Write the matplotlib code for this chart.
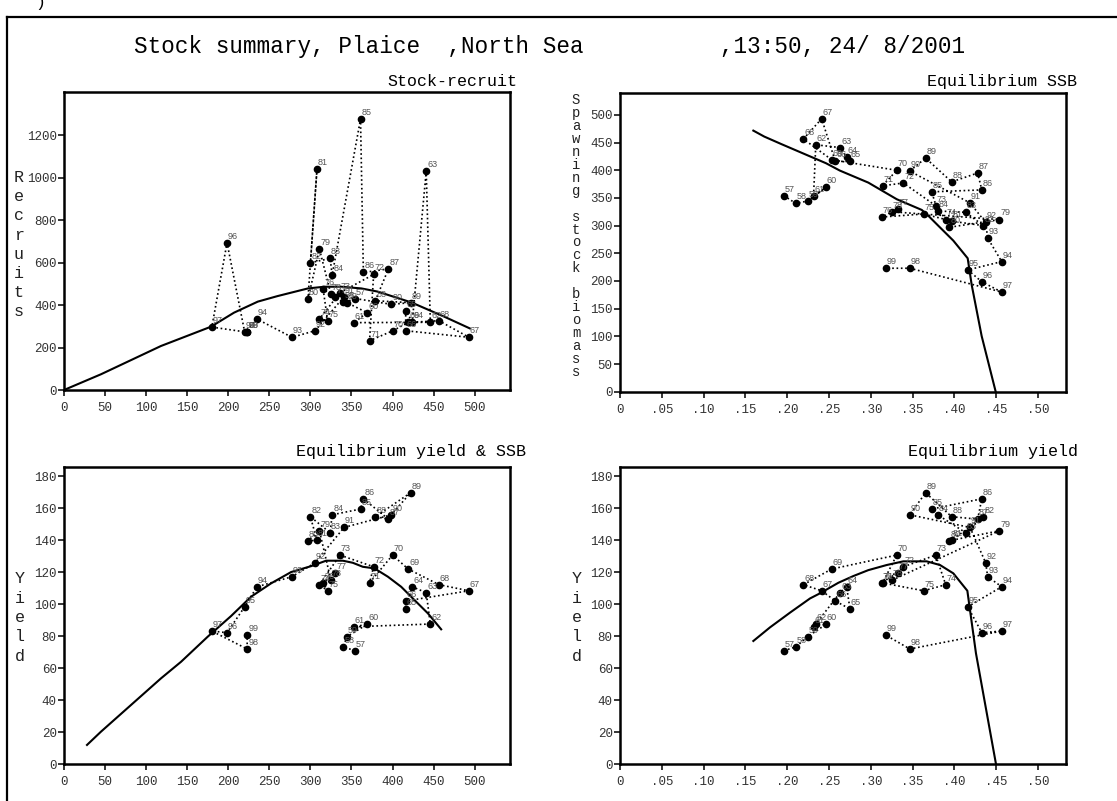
import matplotlib
matplotlib.use("Agg")
import matplotlib.pyplot as plt
from matplotlib.lines import Line2D

# Dados (ano, F, SSB, recrutas, rendimento)
years = list(range(1957, 2000))
f_bar = [.196, .2105, .2245, .2464, .2315, .2342, .2632, .2711, .2751, .2576,
         .2412, .2193, .2532, .331, .3142, .339, .3776, .3896, .3632, .313,
         .3322, .325, .4538, .394, .3967, .4346, .4135, .38, .3728, .4328,
         .4278, .3967, .3656, .3465, .4187, .4374, .4398, .4566, .416, .4328,
         .4566, .3467, .3178]
ssb = [354, 340, 344.5, 369, 353, 446, 441, 424, 416, 416,
       493, 456.5, 419, 400, 372, 377, 336, 311, 321, 315.5,
       330, 325, 311, 297, 308, 300, 324, 326.5, 361, 364.5,
       395, 379, 422, 398.5, 341, 305.7, 277.5, 235, 220, 198.5,
       180, 223, 223]
recruits = [428, 412, 411, 364, 317, 318.6, 1030, 321, 373, 279,
            248, 326, 318, 278, 232, 544, 458, 334, 326, 474,
            439, 450, 663, 428, 1040, 599, 619, 541, 1275, 553,
            570, 420, 411, 403, 439, 279, 248, 334, 272, 693,
            296, 272, 275]
yields = [71.0, 73.5, 79.8, 87.5, 86.0, 87.7, 107.3, 111.0, 97.1, 102.1,
          108.5, 112.3, 122.1, 130.8, 113.5, 123.5, 130.8, 112.3, 108.5, 113.5,
          119.8, 115, 146.0, 139.8, 140, 154.8, 144.8, 156, 159.6, 166,
          153.3, 154.8, 169.8, 156, 148.1, 126, 117.3, 111, 98.5, 82.3,
          83.3, 72.1, 80.8]

# Curvas (equilibrio e stock-recrutamento)
sr_ssb = [0, 45, 118, 179, 207, 236, 260, 297, 317, 337, 362, 382, 423, 463, 494]
sr_rec = [0, 74, 207, 298, 364, 416, 442, 478, 486, 486, 478, 463, 412, 345, 290]

eq_f_ssb = [.1595, .1726, .1934, .2464, .263, .297, .331, .361, .369, .381,
            .3987, .4159, .4207, .4326, .4494]
eq_ssb = [471.6, 460.8, 447, 412.7, 399.4, 377.7, 347.7, 328.3, 317.5, 299.4,
          272.9, 241, 192.8, 100.6, 0]

eq_ssb_y = [28, 45, 118, 142.5, 175, 203.4, 227.8, 252, 276.5, 300.9,
            319.1, 339.5, 351.6, 363.8, 378, 394.3, 410.5, 426.7, 443, 459.2]
eq_yield_s = [12.1, 20.4, 53.7, 64.1, 79.8, 92.7, 104.8, 113.1, 120.2, 123.9,
              127.3, 127.3, 126, 123.5, 122.5, 117.3, 111, 102.7, 94.4, 84.4]

eq_f_y = [.1595, .1794, .2033, .2273, .2392, .2612, .2791, .297, .319, .3389,
          .3668, .3828, .3987, .4155, .4258, .4498]
eq_yield = [77.1, 85.6, 94.8, 103.7, 106.9, 113.5, 117.7, 121.4, 124.6, 126.9,
            126.9, 124.6, 119.4, 108.5, 69.4, 0]

ssb_ticks = [0, 50, 100, 150, 200, 250, 300, 350, 400, 450, 500]
f_ticks = [0, .05, .10, .15, .20, .25, .30, .35, .40, .45, .50]
f_labels = ["0", ".05", ".10", ".15", ".20", ".25", ".30", ".35", ".40", ".45", ".50"]
rec_ticks = [0, 200, 400, 600, 800, 1000, 1200]
ssb_yticks = [0, 50, 100, 150, 200, 250, 300, 350, 400, 450, 500]
yield_ticks = [0, 20, 40, 60, 80, 100, 120, 140, 160, 180]

W, H = 1117, 801
MONO = "Liberation Mono"
LBL_FONT = ["Liberation Sans Narrow", "Liberation Sans", "DejaVu Sans"]

fig = plt.figure(figsize=(W / 100, H / 100), dpi=100)


def box(l, t, r, b):
    return [l / W, 1 - b / H, (r - l) / W, (b - t) / H]


def style(ax, xlim, ylim, xticks, xlabels, yticks):
    ax.set_xlim(*xlim)
    ax.set_ylim(*ylim)
    ax.set_xticks(xticks)
    ax.set_xticklabels(xlabels)
    ax.set_yticks(yticks)
    ax.set_yticklabels([str(v) for v in yticks])
    for s in ax.spines.values():
        s.set_linewidth(1.8)
    ax.tick_params(direction="out", length=4.5, width=1.1, color="black",
                   labelsize=9, labelcolor="#333333")
    ax.tick_params(axis="y", pad=0.8)
    ax.tick_params(axis="x", pad=4)
    for t in ax.get_xticklabels() + ax.get_yticklabels():
        t.set_family(MONO)


def scatter_years(ax, xs, ys):
    ax.plot(xs, ys, color="black", lw=1.2, ls=(0, (1, 1.6)), zorder=2)
    ax.plot(xs, ys, "o", color="black", ms=4.5, ls="none", zorder=3)
    for yr, x, y in zip(years, xs, ys):
        ax.annotate(f"{yr % 100:02d}", (x, y), xytext=(0.7, 2.9),
                    textcoords="offset points", fontsize=6.5, color="#555555",
                    family=LBL_FONT, va="baseline", ha="left")


# Stock-recruit
ax1 = fig.add_axes(box(64, 92.3, 510, 390))
ax1.plot(sr_ssb, sr_rec, color="black", lw=1.5, zorder=2)
scatter_years(ax1, ssb, recruits)
style(ax1, (0, 543), (0, 1401), ssb_ticks, [str(v) for v in ssb_ticks], rec_ticks)

# Equilibrium SSB
ax2 = fig.add_axes(box(620, 93.3, 1066, 391.7))
ax2.plot(eq_f_ssb, eq_ssb, color="black", lw=1.5, zorder=2)
scatter_years(ax2, f_bar, ssb)
style(ax2, (0, .5335), (0, 539), f_ticks, f_labels, ssb_yticks)

# Equilibrium yield & SSB
ax3 = fig.add_axes(box(64, 466.5, 510, 764.3))
ax3.plot(eq_ssb_y, eq_yield_s, color="black", lw=1.5, zorder=2)
scatter_years(ax3, ssb, yields)
style(ax3, (0, 543), (0, 186.2), ssb_ticks, [str(v) for v in ssb_ticks], yield_ticks)

# Equilibrium yield
ax4 = fig.add_axes(box(620, 466.5, 1066, 764.3))
ax4.plot(eq_f_y, eq_yield, color="black", lw=1.5, zorder=2)
scatter_years(ax4, f_bar, yields)
style(ax4, (0, .5335), (0, 186.2), f_ticks, f_labels, yield_ticks)

# Titulos
fig.text(134 / W, 1 - 53 / H,
         "Stock summary, Plaice  ,North Sea          ,13:50, 24/ 8/2001",
         family=MONO, fontsize=16.3, ha="left", va="baseline")
for txt, xr, yb in [("Stock-recruit", 517, 86), ("Equilibrium SSB", 1077, 86),
                    ("Equilibrium yield & SSB", 526, 456), ("Equilibrium yield", 1078, 456)]:
    fig.text(xr / W, 1 - yb / H, txt, family=MONO, fontsize=12,
             ha="right", va="baseline")


# Rotulos verticais (uma letra por linha)
def stacked(label, xc, y0, step, size=12):
    for i, ch in enumerate(label):
        if ch != " ":
            fig.text(xc / W, 1 - (y0 + i * step) / H, ch, family=MONO,
                     fontsize=size, ha="center", va="baseline", color="#222222")


stacked("Recruits", 19, 182.3, 19.1)
stacked("Spawning stock biomass", 576, 104, 12.95, size=10)
stacked("Yield", 20, 583.3, 19.35)
stacked("Yield", 576.7, 583.3, 19.35)

# Moldura externa
fig.add_artist(Line2D([7 / W, 7 / W], [0, 1 - 17 / H], color="black", lw=1.6))
fig.add_artist(Line2D([7 / W, 1], [1 - 17 / H, 1 - 17 / H], color="black", lw=1.6))
fig.text(40 / W, 1 - 2 / H, ")", family=MONO, fontsize=12, ha="center", va="center")

fig.savefig("out.png", dpi=100)
